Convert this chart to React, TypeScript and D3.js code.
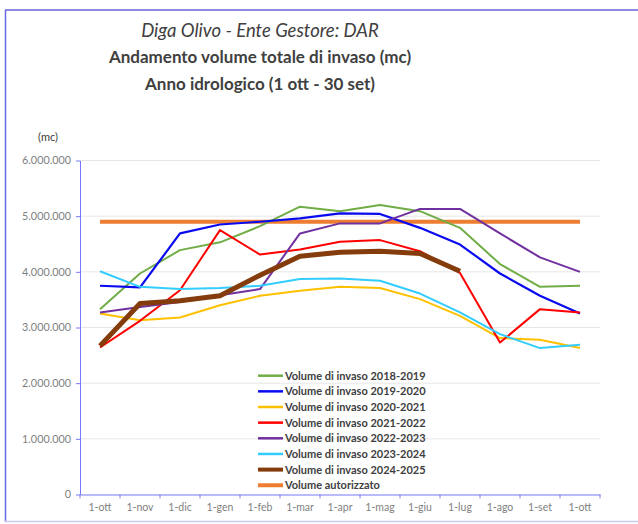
import React, { useEffect, useRef } from 'react';
import * as d3 from 'd3';

const MONTHS = ['1-ott', '1-nov', '1-dic', '1-gen', '1-feb', '1-mar', '1-apr', '1-mag', '1-giu', '1-lug', '1-ago', '1-set', '1-ott '];
const Y_TICKS = [0, 1000000, 2000000, 3000000, 4000000, 5000000, 6000000];

const V_2018 = [3.33, 3.97, 4.39, 4.53, 4.82, 5.17, 5.09, 5.2, 5.09, 4.79, 4.14, 3.73, 3.75];
const V_2019 = [3.75, 3.72, 4.69, 4.85, 4.9, 4.96, 5.05, 5.04, 4.79, 4.49, 3.97, 3.57, 3.25];
const V_2020 = [3.25, 3.13, 3.18, 3.4, 3.57, 3.66, 3.73, 3.71, 3.51, 3.21, 2.81, 2.78, 2.63];
const V_2021 = [2.64, 3.12, 3.67, 4.75, 4.31, 4.4, 4.54, 4.57, 4.37, 3.98, 2.73, 3.33, 3.27];
const V_2022 = [3.27, 3.37, 3.46, 3.58, 3.69, 4.69, 4.87, 4.87, 5.13, 5.13, 4.69, 4.26, 4.0];
const V_2023 = [4.01, 3.73, 3.69, 3.71, 3.75, 3.87, 3.88, 3.84, 3.61, 3.27, 2.88, 2.63, 2.69];
const V_2024 = [2.67, 3.43, 3.48, 3.57, 3.94, 4.28, 4.35, 4.37, 4.33, 4.01, null, null, null];
const V_AUT = [4.9, 4.9, 4.9, 4.9, 4.9, 4.9, 4.9, 4.9, 4.9, 4.9, 4.9, 4.9, 4.9];

const SERIES = [
  { name: 'Volume di invaso 2018-2019', values: V_2018, color: '#70ad47', width: 2 },
  { name: 'Volume di invaso 2019-2020', values: V_2019, color: '#0a0af0', width: 2.2 },
  { name: 'Volume di invaso 2020-2021', values: V_2020, color: '#ffc000', width: 2 },
  { name: 'Volume di invaso 2021-2022', values: V_2021, color: '#ff0000', width: 2 },
  { name: 'Volume di invaso 2022-2023', values: V_2022, color: '#7030a0', width: 2 },
  { name: 'Volume di invaso 2023-2024', values: V_2023, color: '#33ccff', width: 2 },
  { name: 'Volume di invaso 2024-2025', values: V_2024, color: '#843c0c', width: 5 },
  { name: 'Volume autorizzato', values: V_AUT, color: '#ed7d31', width: 4 },
];

const App = () => {
  const ref = useRef<SVGSVGElement>(null);

  useEffect(() => {
    const width = 638,
      height = 524,
      margin = { top: 160.5, left: 80, right: 38, bottom: 29.5 };

    const svg = d3.select(ref.current);
    svg.selectAll('*').remove();

    const font = 'Lato, "Open Sans", sans-serif';

    // frame
    svg.append('line').attr('x1', 5).attr('x2', 638).attr('y1', 10).attr('y2', 10)
      .attr('stroke', '#6565d8').attr('stroke-width', 1.5);
    svg.append('line').attr('x1', 5.5).attr('x2', 5.5).attr('y1', 10).attr('y2', 522)
      .attr('stroke', '#6a6ae8').attr('stroke-width', 1.5);
    svg.append('line').attr('x1', 5).attr('x2', 638).attr('y1', 521.5).attr('y2', 521.5)
      .attr('stroke', '#c9c9f2').attr('stroke-width', 1.5);

    // titles
    const title = svg.append('g').attr('font-family', font).attr('fill', '#404040')
      .attr('text-anchor', 'middle');
    title.append('text').attr('x', 260).attr('y', 37).attr('font-size', 18.5)
      .attr('font-style', 'italic').text('Diga Olivo - Ente Gestore: DAR');
    title.append('text').attr('x', 260).attr('y', 63).attr('font-size', 17)
      .attr('font-weight', 'bold').text('Andamento volume totale di invaso (mc)');
    title.append('text').attr('x', 260).attr('y', 90).attr('font-size', 17)
      .attr('font-weight', 'bold').text('Anno idrologico (1 ott - 30 set)');

    svg.append('text').attr('x', 48).attr('y', 141).attr('text-anchor', 'middle')
      .attr('font-family', font).attr('font-size', 11).attr('fill', '#404040').text('(mc)');

    const x = d3.scaleBand().domain(MONTHS).range([margin.left, width - margin.right]);
    const y = d3.scaleLinear().domain([0, 6000000]).range([height - margin.bottom, margin.top]);

    // grid
    svg.append('g').selectAll('line').data(Y_TICKS.slice(1)).enter().append('line')
      .attr('x1', margin.left).attr('x2', width - margin.right)
      .attr('y1', d => y(d)).attr('y2', d => y(d))
      .attr('stroke', '#e6e6e6').attr('stroke-width', 1);

    const it = d3.formatLocale({ decimal: ',', thousands: '.', grouping: [3], currency: ['', '€'] });
    const fmt = it.format(',d');
    const axisColor = '#7777ff';

    const yAxis = svg.append('g').attr('transform', `translate(${margin.left},0)`)
      .call(d3.axisLeft(y).tickValues(Y_TICKS).tickFormat(d => fmt(d as number)).tickSize(4).tickSizeOuter(0));
    yAxis.select('.domain').attr('stroke', axisColor);
    yAxis.selectAll('.tick line').attr('stroke', axisColor);
    yAxis.selectAll('text').attr('fill', '#7f7f7f').attr('font-family', font).attr('font-size', 10.8)
      .attr('x', -9);

    const xAxis = svg.append('g').attr('transform', `translate(0,${height - margin.bottom})`)
      .call(d3.axisBottom(x).tickSize(0).tickSizeOuter(0));
    xAxis.select('.domain').attr('stroke', axisColor);
    xAxis.selectAll('text').attr('fill', '#7f7f7f').attr('font-family', font).attr('font-size', 10.5)
      .attr('dy', '1.25em');
    // boundary ticks
    const bounds = MONTHS.map(m => x(m) as number).concat([width - margin.right]);
    svg.append('g').selectAll('line').data(bounds).enter().append('line')
      .attr('x1', d => d).attr('x2', d => d)
      .attr('y1', height - margin.bottom).attr('y2', height - margin.bottom + 4)
      .attr('stroke', axisColor);

    const line = d3.line<number | null>()
      .defined(d => d !== null)
      .x((d, i) => (x(MONTHS[i]) as number) + x.bandwidth() / 2)
      .y(d => y((d as number) * 1000000));

    // draw order: orange, then series
    const order = [7, 0, 1, 2, 3, 4, 5, 6];
    order.forEach(k => {
      const s = SERIES[k];
      svg.append('path').datum(s.values).attr('d', line)
        .attr('fill', 'none').attr('stroke', s.color).attr('stroke-width', s.width)
        .attr('stroke-linejoin', 'round');
    });

    // legend
    const legend = svg.append('g').attr('font-family', font);
    SERIES.forEach((s, i) => {
      const ly = 375.7 + i * 15.65;
      legend.append('line').attr('x1', 258).attr('x2', 283).attr('y1', ly).attr('y2', ly)
        .attr('stroke', s.color).attr('stroke-width', s.width > 3 ? 4 : 2.5);
      legend.append('text').attr('x', 285).attr('y', ly + 4).attr('font-size', 11)
        .attr('font-weight', 'bold').attr('fill', '#404040').text(s.name);
    });
  }, []);

  return (
    <div style={{ position: 'absolute', left: 0, top: 0 }}>
      <svg ref={ref} width={638} height={524} style={{ display: 'block', background: '#fff' }} />
    </div>
  );
};

export default App;
